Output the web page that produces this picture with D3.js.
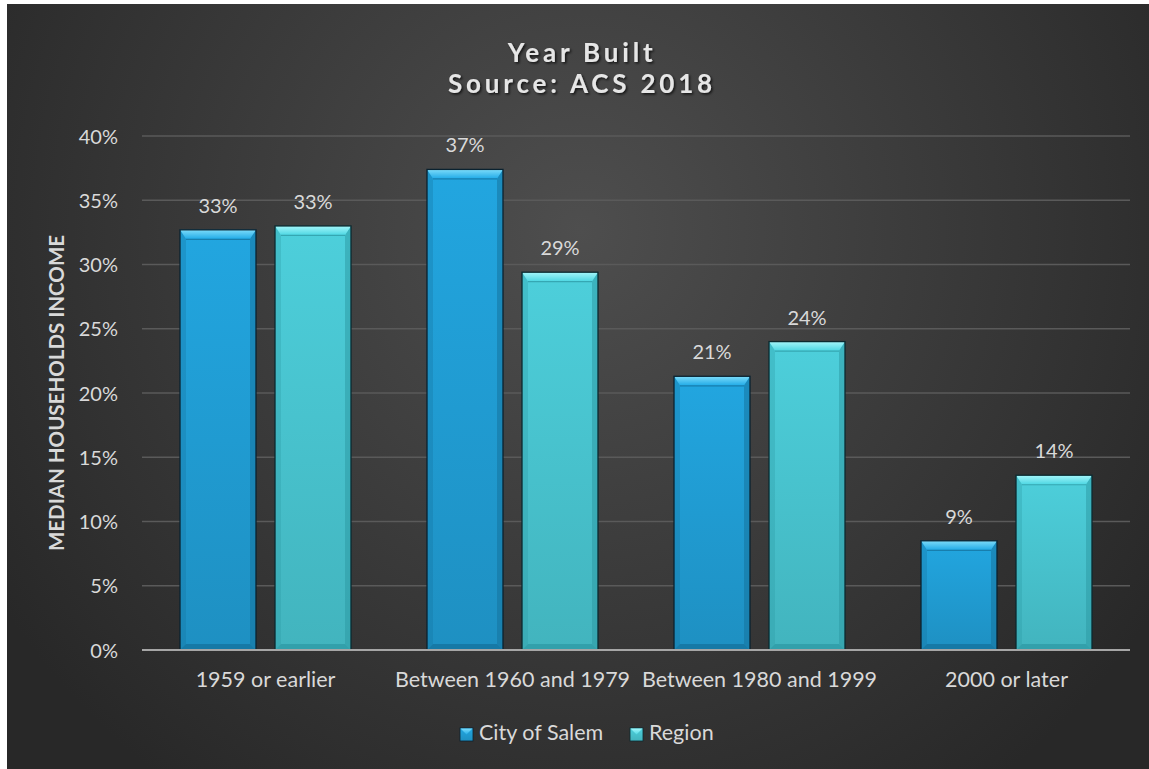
<!DOCTYPE html>
<html>
<head>
<meta charset="utf-8">
<script src="https://cdn.jsdelivr.net/npm/d3@7"></script>
<style>
  html, body { margin: 0; padding: 0; background: #ffffff; }
  svg { display: block; }
  text { font-family: Lato, "Open Sans", sans-serif; }
</style>
</head>
<body>
<svg id="chart" width="1149" height="769"></svg>
<script>
// ---- data ----
const categories = ["1959 or earlier", "Between 1960 and 1979", "Between 1980 and 1999", "2000 or later"];
const seriesNames = ["City of Salem", "Region"];
const salemValues = [32.7, 37.4, 21.3, 8.5];
const regionValues = [33.0, 29.4, 24.0, 13.6];
const yTickValues = [0, 5, 10, 15, 20, 25, 30, 35, 40];
const titleLines = ["Year Built", "Source: ACS 2018"];
const yAxisTitle = "MEDIAN HOUSEHOLDS INCOME";

// ---- layout ----
const W = 1149, H = 769;
const plot = { left: 142, right: 1130, top: 136, bottom: 650 };
const colors = {
  "City of Salem": { base: "#21a0d8", light: "#7ddcfa", dark: "#136f9a", edge: "#0a2230" },
  "Region": { base: "#4ac8d3", light: "#a4f6fa", dark: "#2c97a2", edge: "#0c2a30" }
};

const svg = d3.select("#chart");
const defs = svg.append("defs");

// background gradient
const bg = defs.append("radialGradient").attr("id", "bgGrad")
  .attr("gradientUnits", "userSpaceOnUse")
  .attr("cx", 580).attr("cy", 230).attr("r", 690);
bg.append("stop").attr("offset", "0%").attr("stop-color", "#4e4e4e");
bg.append("stop").attr("offset", "100%").attr("stop-color", "#282828");

svg.append("rect").attr("x", 7).attr("y", 4).attr("width", W - 7).attr("height", H - 4)
  .attr("fill", "url(#bgGrad)");

// title shadow filter
const f = defs.append("filter").attr("id", "tshadow").attr("x", "-10%").attr("y", "-30%").attr("width", "120%").attr("height", "160%");
f.append("feDropShadow").attr("dx", 1.5).attr("dy", 1.5).attr("stdDeviation", 1.2)
  .attr("flood-color", "#000").attr("flood-opacity", 0.7);

// per-series gradients
seriesNames.forEach((s, i) => {
  const c = colors[s];
  const g = defs.append("linearGradient").attr("id", "body" + i)
    .attr("x1", 0).attr("y1", 0).attr("x2", 0).attr("y2", 1);
  g.append("stop").attr("offset", "0%").attr("stop-color", d3.color(c.base).brighter(0.1));
  g.append("stop").attr("offset", "100%").attr("stop-color", d3.color(c.base).darker(0.3));
  const t = defs.append("linearGradient").attr("id", "top" + i)
    .attr("x1", 0).attr("y1", 0).attr("x2", 0).attr("y2", 1);
  t.append("stop").attr("offset", "0%").attr("stop-color", c.light);
  t.append("stop").attr("offset", "100%").attr("stop-color", d3.color(c.base).brighter(0.2));
});

// ---- scales ----
const x0 = d3.scaleBand().domain(categories).range([plot.left, plot.right]).padding(0);
const inner = 38;
const x1 = d3.scaleBand().domain(seriesNames).range([inner, x0.bandwidth() - inner]).paddingInner(0.2).paddingOuter(0);
const y = d3.scaleLinear().domain([0, 40]).range([plot.bottom, plot.top]);

// gridlines
svg.append("g").selectAll("line").data(yTickValues.filter(v => v > 0)).join("line")
  .attr("x1", plot.left).attr("x2", plot.right)
  .attr("y1", d => y(d)).attr("y2", d => y(d))
  .attr("stroke", "#5a5a5a").attr("stroke-width", 1.5);

// y axis labels
const yAxis = d3.axisLeft(y).tickValues(yTickValues).tickFormat(d => d + "%").tickSize(0).tickPadding(0);
const yg = svg.append("g").attr("transform", `translate(118,0)`).call(yAxis);
yg.select(".domain").remove();
yg.selectAll("text").attr("fill", "#d9d9d9").style("font-size", "20px").attr("dy", "0.35em");

// ---- bars ----
const rows = categories.map((c, i) => ({ cat: c, vals: [salemValues[i], regionValues[i]] }));
const groups = svg.append("g").selectAll("g").data(rows).join("g")
  .attr("transform", d => `translate(${x0(d.cat)},0)`);

const bars = groups.selectAll("g.bar").data(d => d.vals.map((v, i) => ({ s: seriesNames[i], i, v })))
  .join("g").attr("class", "bar");

const bevT = 9, bevS = 6;
bars.each(function(d) {
  const g = d3.select(this);
  const bx = x1(d.s), bw = x1.bandwidth();
  const top = y(d.v), bot = y(0);
  const c = colors[d.s];
  g.append("rect").attr("x", bx).attr("y", top).attr("width", bw).attr("height", bot - top)
    .attr("fill", `url(#body${d.i})`);
  // left bevel
  g.append("polygon").attr("points", [[bx, top], [bx + bevS, top + bevT], [bx + bevS, bot - bevS], [bx, bot]].join(" "))
    .attr("fill", c.dark).attr("opacity", 0.3);
  // right bevel
  g.append("polygon").attr("points", [[bx + bw, top], [bx + bw - bevS, top + bevT], [bx + bw - bevS, bot - bevS], [bx + bw, bot]].join(" "))
    .attr("fill", c.dark).attr("opacity", 0.5);
  // bottom bevel
  g.append("polygon").attr("points", [[bx, bot], [bx + bevS, bot - bevS], [bx + bw - bevS, bot - bevS], [bx + bw, bot]].join(" "))
    .attr("fill", c.dark).attr("opacity", 0.7);
  // top bevel
  g.append("polygon").attr("points", [[bx, top], [bx + bw, top], [bx + bw - bevS, top + bevT], [bx + bevS, top + bevT]].join(" "))
    .attr("fill", `url(#top${d.i})`);
  g.append("line").attr("x1", bx + bevS).attr("x2", bx + bw - bevS)
    .attr("y1", top + bevT + 0.5).attr("y2", top + bevT + 0.5).attr("stroke", c.dark).attr("stroke-width", 1.2).attr("opacity", 0.7);
  // outline
  g.append("rect").attr("x", bx).attr("y", top).attr("width", bw).attr("height", bot - top)
    .attr("fill", "none").attr("stroke", c.edge).attr("stroke-width", 1.3);
  // data label
  g.append("text").attr("x", bx + bw / 2).attr("y", top - 17).attr("text-anchor", "middle")
    .attr("fill", "#d9d9d9").style("font-size", "20px").text(Math.round(d.v) + "%");
});

// baseline axis
svg.append("line").attr("x1", plot.left).attr("x2", plot.right)
  .attr("y1", y(0)).attr("y2", y(0)).attr("stroke", "#a6a6a6").attr("stroke-width", 2);

// x axis labels
const xAxis = d3.axisBottom(x0).tickSize(0).tickPadding(0);
const xg = svg.append("g").attr("transform", `translate(0,${y(0)})`).call(xAxis);
xg.select(".domain").remove();
xg.selectAll("text").attr("fill", "#d9d9d9").style("font-size", "21.5px").attr("y", 37).attr("dy", 0);

// y axis title
svg.append("text").attr("transform", `translate(64,${(plot.top + plot.bottom) / 2}) rotate(-90)`)
  .attr("text-anchor", "middle").attr("fill", "#d9d9d9")
  .style("font-size", "20.5px").style("font-weight", "bold").text(yAxisTitle);

// title
svg.append("g").attr("filter", "url(#tshadow)").selectAll("text").data(titleLines).join("text")
  .attr("x", 582).attr("y", (d, i) => 62 + i * 31)
  .attr("text-anchor", "middle").attr("fill", "#e6e6e6")
  .style("font-size", "26px").style("font-weight", "bold").style("letter-spacing", "3.8px")
  .text(d => d);

// legend
const leg = svg.append("g").selectAll("g").data(seriesNames).join("g")
  .attr("transform", (d, i) => `translate(${i === 0 ? 460 : 630},728)`);
leg.append("rect").attr("width", 13).attr("height", 13).attr("fill", (d, i) => `url(#body${i})`)
  .attr("stroke", d => colors[d].edge).attr("stroke-width", 0.8);
leg.append("polygon").attr("points", "0.5,0.5 12.5,0.5 6.5,6.5").attr("fill", (d, i) => `url(#top${i})`);
leg.append("text").attr("x", 19).attr("y", 12).attr("fill", "#d9d9d9").style("font-size", "21.5px").text(d => d);
</script>
</body>
</html>
